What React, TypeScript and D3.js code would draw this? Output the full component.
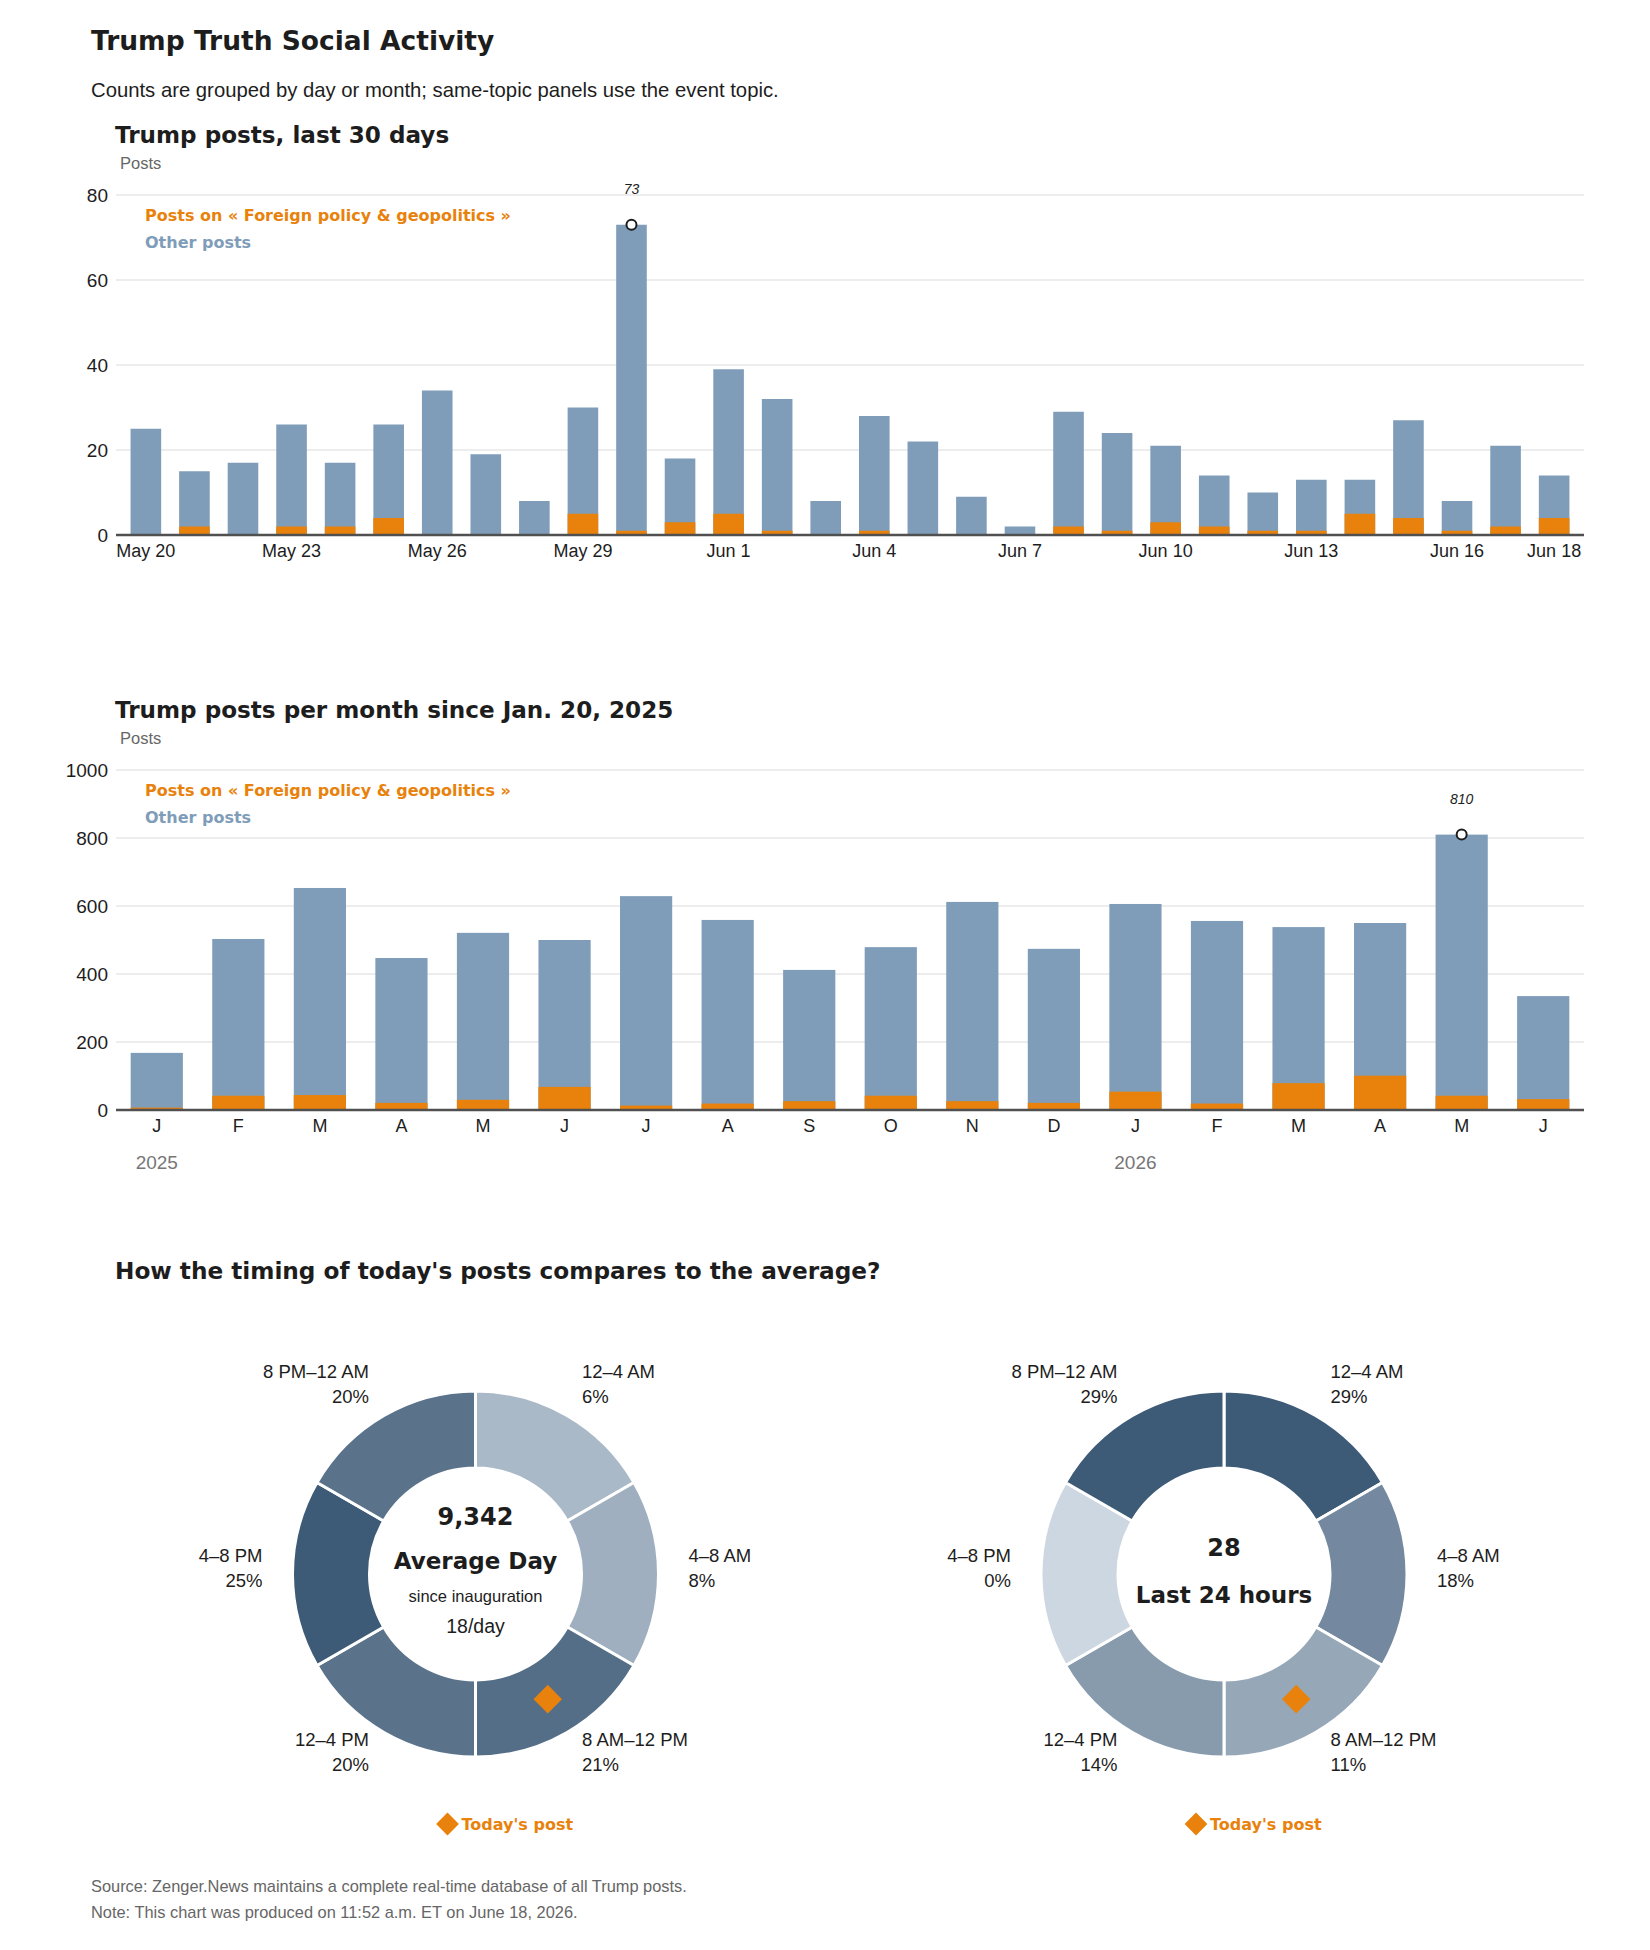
import React from 'react';
import * as d3 from 'd3';

const dayKeys = [
  'May 20', 'May 21', 'May 22', 'May 23', 'May 24', 'May 25', 'May 26', 'May 27', 'May 28', 'May 29',
  'May 30', 'May 31', 'Jun 1', 'Jun 2', 'Jun 3', 'Jun 4', 'Jun 5', 'Jun 6', 'Jun 7', 'Jun 8',
  'Jun 9', 'Jun 10', 'Jun 11', 'Jun 12', 'Jun 13', 'Jun 14', 'Jun 15', 'Jun 16', 'Jun 17', 'Jun 18',
];
const dayTotals = [25, 15, 17, 26, 17, 26, 34, 19, 8, 30, 73, 18, 39, 32, 8, 28, 22, 9, 2, 29, 24, 21, 14, 10, 13, 13, 27, 8, 21, 14];
const dayForeign = [0, 2, 0, 2, 2, 4, 0, 0, 0, 5, 1, 3, 5, 1, 0, 1, 0, 0, 0, 2, 1, 3, 2, 1, 1, 5, 4, 1, 2, 4];
const dayTicks = ['May 20', 'May 23', 'May 26', 'May 29', 'Jun 1', 'Jun 4', 'Jun 7', 'Jun 10', 'Jun 13', 'Jun 16', 'Jun 18'];

const monthKeys = [
  '2025-01', '2025-02', '2025-03', '2025-04', '2025-05', '2025-06', '2025-07', '2025-08', '2025-09',
  '2025-10', '2025-11', '2025-12', '2026-01', '2026-02', '2026-03', '2026-04', '2026-05', '2026-06',
];
const monthLetters = ['J', 'F', 'M', 'A', 'M', 'J', 'J', 'A', 'S', 'O', 'N', 'D', 'J', 'F', 'M', 'A', 'M', 'J'];
const monthTotals = [168, 503, 653, 447, 521, 500, 629, 559, 412, 479, 612, 474, 606, 556, 538, 550, 810, 335];
const monthForeign = [7, 42, 44, 21, 30, 68, 13, 19, 26, 42, 26, 21, 54, 19, 79, 101, 42, 32];
const yearMarks = [{ key: '2025-01', text: '2025' }, { key: '2026-01', text: '2026' }];

const slots = ['12–4 AM', '4–8 AM', '8 AM–12 PM', '12–4 PM', '4–8 PM', '8 PM–12 AM'];
const slotHours = [4, 4, 4, 4, 4, 4];
const avgShare = [6, 8, 21, 20, 25, 20];
const lastShare = [29, 18, 11, 14, 0, 29];
const todaySlot = '8 AM–12 PM';

const ORANGE = '#E8820C';
const BLUE = '#7F9DB9';
const INK = '#1d1d1d';
const FONT = "'Liberation Sans', Arial, sans-serif";
const HEAVY = "'DejaVu Sans', 'Liberation Sans', sans-serif";

const LEFT = 116;
const RIGHT = 1584;

function BarPanel({ title, top, keys, totals, foreign, yMax, yTicks, tickText, tickKeys, years, pi, po }: any) {
  const y0 = top + 340;
  const x = d3.scaleBand().domain(keys).range([LEFT, RIGHT]).paddingInner(pi).paddingOuter(po);
  const y = d3.scaleLinear().domain([0, yMax]).range([y0, y0 - 340]);
  const maxI = d3.maxIndex(totals);
  const bw = x.bandwidth();
  return (
    <g>
      <text x={115} y={top - 52} fontFamily={HEAVY} fontWeight={700} fontSize={23.1} fill={INK}>{title}</text>
      <text x={120} y={top - 26} fontFamily={FONT} fontSize={16.5} fill="#666">Posts</text>
      {yTicks.map((t: number) => (
        <g key={t}>
          {t > 0 && <line x1={LEFT} x2={RIGHT} y1={y(t)} y2={y(t)} stroke="#dcdcdc" strokeWidth={1.2} />}
          <text x={108} y={y(t) + 6.5} textAnchor="end" fontFamily={FONT} fontSize={19} fill={INK}>{t}</text>
        </g>
      ))}
      {keys.map((k: string, i: number) => (
        <g key={k}>
          <rect x={x(k)} width={bw} y={y(totals[i])} height={y(0) - y(totals[i])} fill={BLUE} />
          {foreign[i] > 0 && <rect x={x(k)} width={bw} y={y(foreign[i])} height={y(0) - y(foreign[i])} fill={ORANGE} />}
        </g>
      ))}
      <line x1={LEFT} x2={RIGHT} y1={y0} y2={y0} stroke="#505050" strokeWidth={2.5} />
      {tickKeys.map((k: string) => (
        <text key={k} x={(x(k) as number) + bw / 2} y={y0 + 22} textAnchor="middle" fontFamily={FONT} fontSize={18} fill={INK}>
          {tickText(k)}
        </text>
      ))}
      {years && years.map((d: any) => (
        <text key={d.text} x={(x(d.key) as number) + bw / 2} y={y0 + 59} textAnchor="middle" fontFamily={FONT} fontSize={19} fill="#777">{d.text}</text>
      ))}
      <circle cx={(x(keys[maxI]) as number) + bw / 2} cy={y(totals[maxI])} r={5} fill="white" stroke={INK} strokeWidth={2} />
      <text x={(x(keys[maxI]) as number) + bw / 2} y={y(totals[maxI]) - 31} textAnchor="middle" fontFamily={FONT} fontStyle="italic" fontSize={14} fill={INK}>
        {totals[maxI]}
      </text>
      <text x={145} y={top + 26} fontFamily={HEAVY} fontWeight={700} fontSize={16} fill={ORANGE}>Posts on « Foreign policy &amp; geopolitics »</text>
      <text x={145} y={top + 53} fontFamily={HEAVY} fontWeight={700} fontSize={16} fill={BLUE}>Other posts</text>
    </g>
  );
}

function Donut({ cx, cy, shares, head, sub, big, bigY, headY }: any) {
  const outer = 183;
  const inner = 106;
  const labelR = 213;
  const pie = d3.pie<number>().sort(null).value((d: number) => d);
  const arcs = pie(slotHours);
  const arc = d3.arc<any>().innerRadius(inner).outerRadius(outer);
  const labelArc = d3.arc<any>().innerRadius(labelR).outerRadius(labelR);
  const color = d3.scaleLinear<string>().domain([0, d3.max(shares) as number]).range(['#cdd7e1', '#3d5a76']);
  const ti = slots.indexOf(todaySlot);
  const [tx, ty] = arc.centroid(arcs[ti]);
  return (
    <g transform={`translate(${cx},${cy})`}>
      {arcs.map((a: any, i: number) => (
        <path key={slots[i]} d={arc(a) as string} fill={color(shares[i])} stroke="white" strokeWidth={3} />
      ))}
      {arcs.map((a: any, i: number) => {
        const [lx, ly] = labelArc.centroid(a);
        const anchor = lx > 1 ? 'start' : lx < -1 ? 'end' : 'middle';
        return (
          <text key={slots[i]} textAnchor={anchor} fontFamily={FONT} fontSize={18.5} fill={INK}>
            <tspan x={lx} y={ly - 12}>{slots[i]}</tspan>
            <tspan x={lx} y={ly + 13}>{shares[i]}%</tspan>
          </text>
        );
      })}
      <path d={d3.symbol(d3.symbolDiamond2, 520)() as string} transform={`translate(${tx},${ty})`} fill={ORANGE} />
      <text x={0} y={bigY} textAnchor="middle" fontFamily={HEAVY} fontWeight={700} fontSize={24} fill={INK}>{big}</text>
      <text x={0} y={headY} textAnchor="middle" fontFamily={HEAVY} fontWeight={700} fontSize={23} fill={INK}>{head}</text>
      {sub && (
        <>
          <text x={0} y={28} textAnchor="middle" fontFamily={FONT} fontSize={16.5} fill={INK}>{sub[0]}</text>
          <text x={0} y={59} textAnchor="middle" fontFamily={FONT} fontSize={19.5} fill={INK}>{sub[1]}</text>
        </>
      )}
      <path d={d3.symbol(d3.symbolDiamond2, 330)() as string} transform={`translate(-28,250)`} fill={ORANGE} />
      <text x={-14} y={256} fontFamily={HEAVY} fontWeight={700} fontSize={16} fill={ORANGE}>Today's post</text>
    </g>
  );
}

export default function App() {
  const dayIndex = (k: string) => k;
  return (
    <svg width={1650} height={1950} style={{ position: 'absolute', left: 0, top: 0, background: 'white' }}>
      <rect width={1650} height={1950} fill="white" />
      <text x={91} y={50} fontFamily={HEAVY} fontWeight={700} fontSize={26.5} fill={INK}>Trump Truth Social Activity</text>
      <text x={91} y={97} fontFamily={FONT} fontSize={20.3} fill={INK}>
        Counts are grouped by day or month; same-topic panels use the event topic.
      </text>
      <BarPanel
        title="Trump posts, last 30 days"
        top={195}
        keys={dayKeys}
        totals={dayTotals}
        foreign={dayForeign}
        yMax={80}
        yTicks={[0, 20, 40, 60, 80]}
        tickKeys={dayTicks}
        tickText={dayIndex}
        pi={0.37}
        po={0.3}
      />
      <BarPanel
        title="Trump posts per month since Jan. 20, 2025"
        top={770}
        keys={monthKeys}
        totals={monthTotals}
        foreign={monthForeign}
        yMax={1000}
        yTicks={[0, 200, 400, 600, 800, 1000]}
        tickKeys={monthKeys}
        tickText={(k: string) => monthLetters[monthKeys.indexOf(k)]}
        years={yearMarks}
        pi={0.36}
        po={0.18}
      />
      <text x={115} y={1279} fontFamily={HEAVY} fontWeight={700} fontSize={23.2} fill={INK}>
        How the timing of today's posts compares to the average?
      </text>
      <Donut cx={475.5} cy={1574} shares={avgShare} big="9,342" bigY={-49} head="Average Day" headY={-5} sub={['since inauguration', '18/day']} />
      <Donut cx={1224} cy={1574} shares={lastShare} big="28" bigY={-18} head="Last 24 hours" headY={29} />
      <text x={91} y={1892} fontFamily={FONT} fontSize={16.4} fill="#666">
        Source: Zenger.News maintains a complete real-time database of all Trump posts.
      </text>
      <text x={91} y={1918} fontFamily={FONT} fontSize={16.4} fill="#666">
        Note: This chart was produced on 11:52 a.m. ET on June 18, 2026.
      </text>
    </svg>
  );
}
